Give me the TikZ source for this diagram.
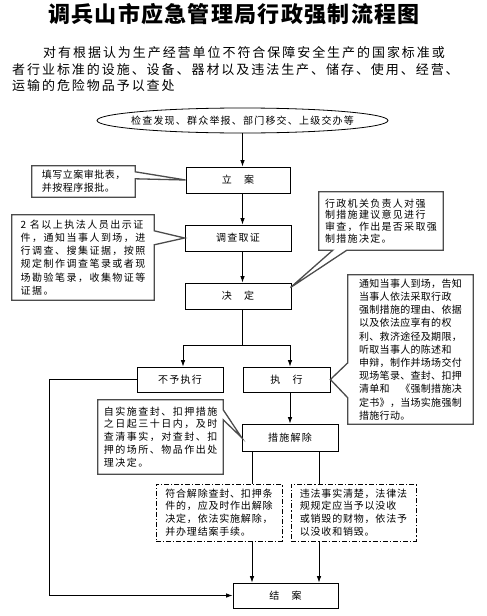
\documentclass[tikz,border=0pt]{standalone}
\usepackage{fontspec}
\setmainfont{Noto Sans CJK SC}
\usetikzlibrary{shapes.geometric,arrows.meta,calc}
\newcommand{\fs}[3]{\fontsize{#1}{#2}\selectfont\addfontfeatures{LetterSpace=#3}}
\begin{document}
\begin{tikzpicture}[x=1pt,y=-1pt,
  arr/.style={-{Latex[length=6.5pt,width=4.5pt]},line width=0.8pt},
  ln/.style={line width=0.8pt},
  box/.style={draw,line width=0.8pt,minimum height=26pt,inner sep=0pt,font=\fs{10}{12}{12}},
  ctext/.style={inner sep=0pt,align=left},
  callout/.style={draw=black!70,line width=1.3pt,line join=miter},
  dbox/.style={draw,line width=0.8pt,dash pattern=on 5pt off 2pt on 1.2pt off 2pt,inner sep=0pt,align=left,font=\fs{10}{12.7}{8}}
]
\fill[white] (0,0) rectangle (487,616);
\useasboundingbox (0,0) rectangle (487,616);

% title and introduction
\node[inner sep=0pt] (title) at (234,14) {\fs{22}{22}{6}\bfseries 调兵山市应急管理局行政强制流程图};
\node[anchor=north west,inner sep=0pt,align=left,font=\fs{13}{16.5}{15}] (para) at (12,46.5)
  {\hspace*{31pt}对有根据认为生产经营单位不符合保障安全生产的国家标准或\\
   者行业标准的设施、设备、器材以及违法生产、储存、使用、经营、\\
   运输的危险物品予以查处};

% main flow
\node[ellipse,draw,line width=0.8pt,minimum width=291pt,minimum height=25pt,inner sep=0pt,font=\fs{10}{12}{12}] (src) at (242.5,120.5)
  {\makebox[0pt]{检查发现、群众举报、部门移交、上级交办等}};
\node[box,minimum width=104pt] (lian) at (238,180) {立　案};
\node[box,minimum width=106pt] (dc) at (238,238) {调查取证};
\node[box,minimum width=106pt] (jd) at (238,296) {决　定};
\node[box,minimum width=86pt,minimum height=25pt] (bzx) at (180,379.5) {不予执行};
\node[box,minimum width=87pt,minimum height=25pt] (zx) at (286.5,379.5) {执　行};
\node[box,minimum width=96pt,minimum height=27pt] (cs) at (290,437.5) {措施解除};
\node[dbox,minimum width=126pt,minimum height=57pt] (d1) at (219,512.5)
  {符合解除查封、扣押条\\件的，应及时作出解除\\决定，依法实施解除，\\并办理结案手续。};
\node[dbox,minimum width=125pt,minimum height=57pt] (d2) at (353.5,512.5)
  {违法事实清楚，法律法\\规规定应当予以没收\\或销毁的财物，依法予\\以没收和销毁。};
\node[box,minimum width=105pt,minimum height=25pt] (ja) at (285.5,595.5) {结　案};

% callout texts
\node[ctext,minimum width=103pt,minimum height=31pt,font=\fs{10}{13.3}{5}] (c1) at (83.5,181.5)
  {填写立案审批表，\\并按程序报批。};
\node[ctext,minimum width=142pt,minimum height=85pt,font=\fs{10}{13.3}{15}] (c2) at (83,257.5)
  {2 名以上执法人员出示证\\件，通知当事人到场，进\\行调查、搜集证据，按照\\规定制作调查笔录或者现\\场勘验笔录，收集物证等\\证据。};
\node[ctext,minimum width=124pt,minimum height=58pt,font=\fs{10}{11.7}{13}] (c3) at (381,221)
  {行政机关负责人对强\\制措施建议意见进行\\审查，作出是否采取强\\制措施决定。};
\node[ctext,minimum width=125pt,minimum height=149pt,font=\fs{10}{13.2}{3}] (c4) at (410.5,349.5)
  {通知当事人到场，告知\\当事人依法采取行政\\强制措施的理由、依据\\以及依法应享有的权\\利、救济途径及期限，\\听取当事人的陈述和\\申辩，制作并场场交付\\现场笔录、查封、扣押\\清单和　《强制措施决\\定书》，当场实施强制\\措施行动。};
\node[ctext,minimum width=125pt,minimum height=74pt,font=\fs{10}{12.9}{15}] (c5) at (160.5,437)
  {自实施查封、扣押措施\\之日起三十日内，及时\\查清事实，对查封、扣\\押的场所、物品作出处\\理决定。};

% callout outlines
\draw[callout] (c1.north west) -- (c1.north east) -- ($(c1.north east)+(0,6)$) -- (lian.west)
  -- ($(c1.north east)+(0,13)$) -- (c1.south east) -- (c1.south west) -- cycle;
\draw[callout] (c2.north west) -- (c2.north east) -- ($(c2.north east)+(0,16)$) -- (dc.west)
  -- ($(c2.north east)+(0,30)$) -- (c2.south east) -- (c2.south west) -- cycle;
\draw[callout] (c3.north west) -- (c3.north east) -- (c3.south east) -- ($(c3.south west)+(28,0)$)
  -- ($(jd.north east)+(-1,5)$) -- ($(c3.south west)+(14,0)$) -- (c3.south west) -- cycle;
\draw[callout] (c4.north west) -- (c4.north east) -- (c4.south east) -- (c4.south west)
  -- ($(c4.north west)+(0,123)$) -- (zx.east) -- ($(c4.north west)+(0,88)$) -- cycle;
\draw[callout] (c5.north west) -- (c5.north east) -- ($(c5.north east)+(0,10)$) -- (cs.west)
  -- ($(c5.north east)+(0,20)$) -- (c5.south east) -- (c5.south west) -- cycle;

% connectors
\coordinate (sp) at (242.5,345);
\coordinate (sl) at (183,345);
\coordinate (sr) at (290,345);
\coordinate (xa) at (252,460);
\coordinate (xb) at (319,460);
\draw[arr] (src.south) -- (src.south |- lian.north);
\draw[arr] (lian.south -| src.south) -- (dc.north -| src.south);
\draw[arr] (dc.south -| src.south) -- (jd.north -| src.south);
\draw[ln] (jd.south -| sp) -- (sp);
\draw[ln] (sl) -- (sr);
\draw[arr] (sl) -- (sl |- bzx.north);
\draw[arr] (sr) -- (sr |- zx.north);
\draw[arr] (zx.south -| sr) -- (cs.north -| sr);
\draw[ln] (cs.south -| xa) -- (d1.north -| xa);
\draw[ln] (cs.south -| xb) -- (d2.north -| xb);
\draw[arr] (d1.south -| xa) -- (ja.north -| xa);
\draw[arr] (d2.south -| xb) -- (ja.north -| xb);
\draw[arr] (bzx.west) -- ++(-87,0) |- (ja.west);
\end{tikzpicture}
\end{document}
